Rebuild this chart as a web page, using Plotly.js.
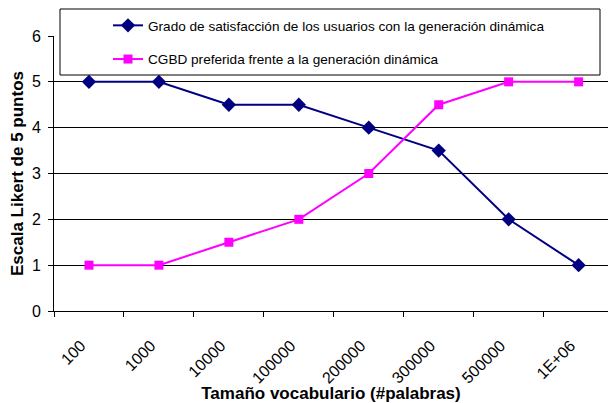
<!DOCTYPE html>
<html>
<head>
<meta charset="utf-8">
<script src="https://cdn.plot.ly/plotly-3.0.1.min.js"></script>
<style>html,body{margin:0;padding:0;background:#fff;overflow:hidden}#chart{width:608px;height:403px}</style>
</head>
<body>
<div id="chart"></div>
<script>
const categories = ["100", "1000", "10000", "100000", "200000", "300000", "500000", "1E+06"];
const satisfaccion = [5, 5, 4.5, 4.5, 4, 3.5, 2, 1];
const cgbdPreferida = [1, 1, 1.5, 2, 3, 4.5, 5, 5];
const seriesNames = [
  "Grado de satisfacción de los usuarios con la generación dinámica",
  "CGBD preferida frente a la generación dinámica"
];
const FONT = "Arial, 'Liberation Sans', sans-serif";

const traces = [
  {
    x: categories, y: satisfaccion, name: seriesNames[0], type: "scatter", mode: "lines+markers",
    line: {color: "#000080", width: 2}, marker: {symbol: "diamond", size: 11, color: "#000080"},
    legendgroup: "a", cliponaxis: false
  },
  {
    x: categories, y: cgbdPreferida, name: seriesNames[1], type: "scatter", mode: "lines+markers",
    line: {color: "#FF00FF", width: 2}, marker: {symbol: "square", size: 9, color: "#FF00FF"},
    legendgroup: "b", cliponaxis: false
  }
];

const ml = 54, mt = 36, mb = 92, W = 608;
const pw = W - ml, ph = 403 - mt - mb;
const layout = {
  width: W, height: 403,
  margin: {l: ml, r: 0, t: mt, b: mb, pad: 0},
  paper_bgcolor: "#fff", plot_bgcolor: "#fff",
  font: {family: FONT, color: "#000", size: 14},
  showlegend: true,
  legend: {
    x: (108 - ml) / pw, xanchor: "left", y: 1 + (mt - 10) / ph, yanchor: "top",
    bgcolor: "rgba(0,0,0,0)", borderwidth: 0,
    font: {family: FONT, size: 13.6, color: "#000"},
    traceorder: "grouped", tracegroupgap: 13
  },
  shapes: [{
    type: "rect", xref: "paper", yref: "paper",
    x0: (60 - ml) / pw, x1: (600 - ml) / pw,
    y0: 1 - (75 - mt) / ph, y1: 1 + (mt - 9) / ph,
    fillcolor: "#fff", line: {color: "#000", width: 1}, layer: "above"
  }],
  xaxis: {
    type: "category", range: [-0.5, 7.42], tickson: "boundaries",
    showline: true, linecolor: "#000", linewidth: 1,
    ticks: "outside", ticklen: 5, tickcolor: "#000", tickwidth: 1,
    tickangle: -45, tickfont: {family: FONT, size: 16}, ticklabelstandoff: 18, ticklabelshift: -8,
    showgrid: false, zeroline: false,
    title: {text: "Tamaño vocabulario (#palabras)", font: {family: FONT, size: 17, weight: "bold"}, standoff: 2}
  },
  yaxis: {
    range: [0, 6], dtick: 1, tick0: 0,
    showline: true, linecolor: "#000", linewidth: 1,
    ticks: "outside", ticklen: 5, tickcolor: "#000", tickwidth: 1,
    tickfont: {family: FONT, size: 16}, ticklabelstandoff: 4,
    showgrid: true, gridcolor: "#000", gridwidth: 1, zeroline: false,
    title: {text: "Escala Likert de 5 puntos", font: {family: FONT, size: 17, weight: "bold"}, standoff: 3}
  }
};
Plotly.newPlot("chart", traces, layout, {displayModeBar: false, staticPlot: true});
</script>
</body>
</html>
